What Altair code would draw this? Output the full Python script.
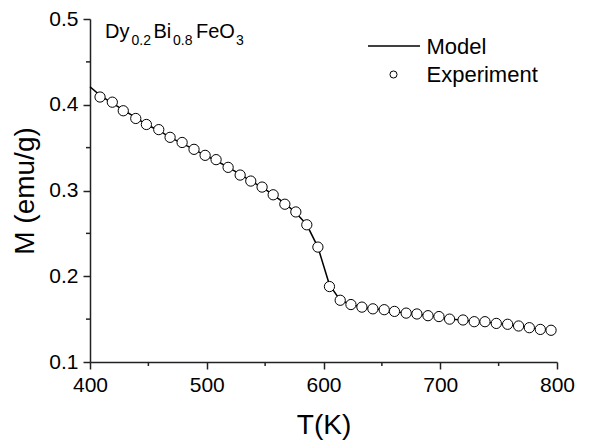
import altair as alt
import pandas as pd

exp_T = [408.6, 419.1, 428.5, 439.2, 448.3, 458.9, 468.6, 478.9, 489.1, 498.6,
         508.0, 518.3, 528.6, 537.7, 547.4, 556.9, 566.9, 576.3, 585.7, 595.2,
         605.1, 614.3, 623.5, 632.9, 642.3, 652.0, 660.8, 670.8, 680.0, 689.5,
         698.9, 708.0, 719.5, 729.1, 738.3, 748.0, 757.7, 767.1, 776.3, 785.7, 794.9]
exp_M = [0.409, 0.403, 0.393, 0.384, 0.377, 0.371, 0.362, 0.356, 0.348, 0.341,
         0.336, 0.327, 0.318, 0.311, 0.304, 0.295, 0.284, 0.275, 0.260, 0.234,
         0.188, 0.172, 0.167, 0.164, 0.162, 0.161, 0.159, 0.157, 0.156, 0.154,
         0.153, 0.150, 0.149, 0.147, 0.147, 0.145, 0.144, 0.142, 0.140, 0.138, 0.137]

# Model curve
model_T = [400.0, 408.6, 419.1, 428.5, 439.2, 448.3, 458.9, 468.6, 478.9, 489.1, 498.6,
           508.0, 518.3, 528.6, 537.7, 547.4, 556.9, 566.9, 576.3, 585.7, 595.2,
           605.1, 614.3, 623.5, 632.9, 642.3, 652.0, 660.8, 670.8, 680.0, 689.5,
           698.9, 708.0, 719.5, 729.1, 738.3, 748.0, 757.7, 767.1, 776.3, 785.7, 794.9]
model_M = [0.421, 0.411, 0.402, 0.394, 0.385, 0.377, 0.370, 0.362, 0.355, 0.348, 0.341,
           0.335, 0.327, 0.319, 0.311, 0.304, 0.295, 0.285, 0.274, 0.260, 0.234,
           0.190, 0.172, 0.167, 0.164, 0.162, 0.161, 0.159, 0.157, 0.156, 0.154,
           0.153, 0.150, 0.149, 0.147, 0.147, 0.145, 0.144, 0.142, 0.140, 0.138, 0.137]

x_ticks = [400, 500, 600, 700, 800]
x_minor = [450, 550, 650, 750]
y_ticks = [0.1, 0.2, 0.3, 0.4, 0.5]
y_minor = [0.15, 0.25, 0.35, 0.45]

FONT = "Liberation Sans"
W, H = 467, 343
TOP = 11

exp_df = pd.DataFrame({"T": exp_T, "M": exp_M})
model_df = pd.DataFrame({"T": model_T, "M": model_M})
xminor_df = pd.DataFrame({"T": x_minor})
yminor_df = pd.DataFrame({"M": y_minor})

xscale = alt.Scale(domain=[400, 800], nice=False, zero=False)
yscale = alt.Scale(domain=[0.1, 0.5], nice=False, zero=False)

xaxis = alt.Axis(values=x_ticks, title="T(K)", grid=False, tickSize=7, tickWidth=1.5,
                 domainWidth=1.5, domainColor="#222", tickColor="#222", labelFlush=False,
                 labelFontSize=21, labelFont=FONT, labelColor="black", labelPadding=5,
                 titleFontSize=28, titleFont=FONT, titleFontWeight="normal", titleColor="black",
                 titleY=71, titleBaseline="alphabetic")
yaxis = alt.Axis(values=y_ticks, title="M (emu/g)", format=".1f", grid=False, tickSize=7,
                 tickWidth=1.5, domainWidth=1.5, domainColor="#222", tickColor="#222",
                 labelFlush=False,
                 labelFontSize=21, labelFont=FONT, labelColor="black", labelPadding=5,
                 titleFontSize=28, titleFont=FONT, titleFontWeight="normal", titleColor="black",
                 titleX=-57, titleBaseline="alphabetic", titleAngle=-90)

line = alt.Chart(model_df).mark_line(color="black", strokeWidth=1.5).encode(
    x=alt.X("T:Q", scale=xscale, axis=xaxis),
    y=alt.Y("M:Q", scale=yscale, axis=yaxis),
)
pts = alt.Chart(exp_df).mark_point(shape="circle", filled=True, fill="white", stroke="black",
                                   strokeWidth=1, size=105, opacity=1).encode(
    x=alt.X("T:Q", scale=xscale),
    y=alt.Y("M:Q", scale=yscale),
)
xmin = alt.Chart(xminor_df).mark_rule(color="#222", strokeWidth=1.5).encode(
    x=alt.X("T:Q", scale=xscale),
    y=alt.value(H), y2=alt.value(H + 4),
)
ymin = alt.Chart(yminor_df).mark_rule(color="#222", strokeWidth=1.5).encode(
    y=alt.Y("M:Q", scale=yscale),
    x=alt.value(0), x2=alt.value(-4),
)

def txt(s, x, y, size):
    return alt.Chart(pd.DataFrame({"t": [s]})).mark_text(
        align="left", baseline="alphabetic", font=FONT, fontSize=size, color="black"
    ).encode(text="t:N", x=alt.value(x), y=alt.value(y))

dy = 15 - 8 - TOP  # keep annotation at same page position
# Formula annotation with subscripts
ann = [
    txt("Dy", 15, 22.5 + dy, 20), txt("0.2", 41.5, 29.5 + dy, 14),
    txt("Bi", 63.5, 22.5 + dy, 20), txt("0.8", 83, 29.5 + dy, 14),
    txt("FeO", 106, 22.5 + dy, 20), txt("3", 146, 29.5 + dy, 14),
]

# Legend
leg_line = alt.Chart(pd.DataFrame({"k": ["Model"]})).mark_rule(color="black", strokeWidth=1.5).encode(
    x=alt.value(278), x2=alt.value(330), y=alt.value(31 + dy))
leg_pt = alt.Chart(pd.DataFrame({"k": ["Experiment"]})).mark_point(
    shape="circle", filled=True, fill="white", stroke="black", strokeWidth=1, size=50, opacity=1
).encode(x=alt.value(303.5), y=alt.value(59.5 + dy))
leg_txt = [txt("Model", 336.5, 38.5 + dy, 22), txt("Experiment", 336.5, 67 + dy, 22)]

chart = alt.layer(line, pts, xmin, ymin, *ann, leg_line, leg_pt, *leg_txt).properties(
    width=W, height=H,
    padding={"left": 82, "top": TOP, "right": 30, "bottom": 80},
    autosize=alt.AutoSizeParams(type="none"),
    background="white",
).configure_view(stroke=None)

chart.save("out.html", embed_options={"renderer": "svg", "actions": False})
